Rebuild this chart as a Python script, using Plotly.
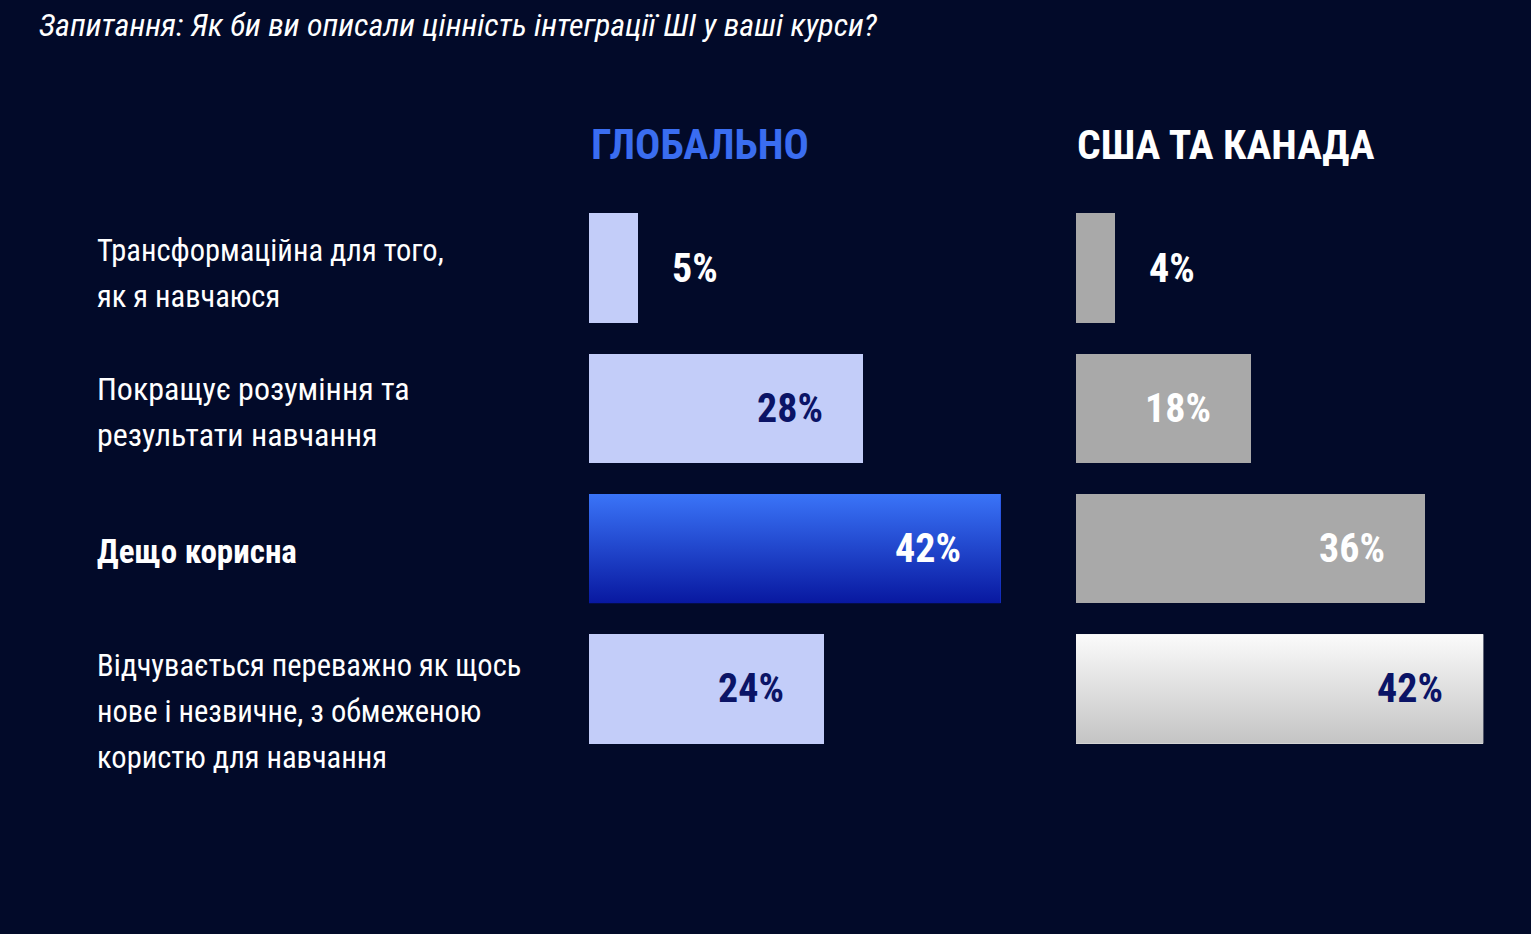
import plotly.graph_objects as go

title_text = "Запитання: Як би ви описали цінність інтеграції ШІ у ваші курси?"
categories = [
    "Трансформаційна для того,<br>як я навчаюся",
    "Покращує розуміння та<br>результати навчання",
    "<b>Дещо корисна</b>",
    "Відчувається переважно як щось<br>нове і незвичне, з обмеженою<br>користю для навчання",
]
global_values = [5, 28, 42, 24]
na_values = [4, 18, 36, 42]
panel_titles = ["ГЛОБАЛЬНО", "США ТА КАНАДА"]

BG = "#020a29"
FONT = "Liberation Sans Narrow, Roboto Condensed, Liberation Sans, Arial, sans-serif"
W = 1531
H = 934

global_colors = ["#c3cdf9", "#c3cdf9", "#1d3fd6", "#c3cdf9"]
na_colors = ["#a9a9a9", "#a9a9a9", "#a9a9a9", "#e4e4e4"]
global_text_colors = ["#ffffff", "#0b1466", "#ffffff", "#0b1466"]
na_text_colors = ["#ffffff", "#ffffff", "#ffffff", "#0b1466"]
highlight = {("x", 2): ["#0818a0", "#3a74f8"], ("x2", 3): ["#c4c4c4", "#fbfbfb"]}

bar_w = 0.78
ypos = list(range(len(categories)))

fig = go.Figure()
fig.add_trace(go.Bar(x=global_values, y=ypos, orientation="h", width=bar_w,
                     marker=dict(color=global_colors, line=dict(width=0)),
                     xaxis="x", yaxis="y", hoverinfo="skip", showlegend=False))
fig.add_trace(go.Bar(x=na_values, y=ypos, orientation="h", width=bar_w,
                     marker=dict(color=na_colors, line=dict(width=0)),
                     xaxis="x2", yaxis="y2", hoverinfo="skip", showlegend=False))

# gradient overlays for highlighted bars
for (xa, idx), (c_bottom, c_top) in highlight.items():
    vals = global_values if xa == "x" else na_values
    v = vals[idx]
    y0, y1 = idx - bar_w / 2, idx + bar_w / 2
    fig.add_trace(go.Scatter(
        x=[0, v, v, 0, 0], y=[y0, y0, y1, y1, y0], mode="lines",
        line=dict(width=0), fill="toself",
        fillgradient=dict(type="vertical", start=y0, stop=y1,
                          colorscale=[[0, c_top], [1, c_bottom]]),
        xaxis=xa, yaxis="y" if xa == "x" else "y2",
        hoverinfo="skip", showlegend=False))

ann = []
ann.append(dict(text="<i>" + title_text + "</i>", x=37 / W, y=1 - 25 / H, xref="paper", yref="paper",
                xanchor="left", yanchor="middle", showarrow=False,
                font=dict(family=FONT, size=32, color="#ffffff")))
ann.append(dict(text="<b>" + panel_titles[0] + "</b>", x=589 / W, y=1 - 144 / H, xref="paper", yref="paper",
                xanchor="left", yanchor="middle", showarrow=False,
                font=dict(family=FONT, size=42, color="#3a6df0")))
ann.append(dict(text="<b>" + panel_titles[1] + "</b>", x=1075 / W, y=1 - 144 / H, xref="paper", yref="paper",
                xanchor="left", yanchor="middle", showarrow=False,
                font=dict(family=FONT, size=41.5, color="#ffffff")))

label_shift = [5, 4, 3, 23]  # px downward of label block centre vs bar centre
label_size = [30.5, 32, 33, 30.5]
line_gap = 46
for i, c in enumerate(categories):
    lines = c.split("<br>")
    n = len(lines)
    for k, ln in enumerate(lines):
        off = (k - (n - 1) / 2) * line_gap + label_shift[i]
        ann.append(dict(text=ln, x=95 / W, y=i, xref="paper", yref="y",
                        xanchor="left", yanchor="middle", align="left", showarrow=False,
                        yshift=-off,
                        font=dict(family=FONT, size=label_size[i], color="#ffffff")))

for vals, tcols, xa, ya in [(global_values, global_text_colors, "x", "y"),
                            (na_values, na_text_colors, "x2", "y2")]:
    for i, v in enumerate(vals):
        outside = v < 10
        ann.append(dict(text="<b>%d%%</b>" % v, x=v, y=i, xref=xa, yref=ya,
                        xanchor="left" if outside else "right", yanchor="middle",
                        xshift=32 if outside else -38, showarrow=False,
                        font=dict(family=FONT, size=40, color=tcols[i])))

axis_common = dict(showgrid=False, zeroline=False, showticklabels=False, showline=False, fixedrange=True)
fig.update_layout(
    width=W, height=H,
    margin=dict(l=0, r=0, t=0, b=0),
    paper_bgcolor=BG, plot_bgcolor=BG,
    xaxis=dict(domain=[589 / W, (589 + 45 * 9.8) / W], range=[0, 45], **axis_common),
    xaxis2=dict(domain=[1076 / W, (1076 + 45 * 9.7) / W], range=[0, 45], **axis_common),
    yaxis=dict(domain=[1 - 759 / H, 1 - 198 / H], range=[3.5, -0.5], anchor="x", **axis_common),
    yaxis2=dict(domain=[1 - 759 / H, 1 - 198 / H], range=[3.5, -0.5], anchor="x2", **axis_common),
    annotations=ann,
    bargap=0,
)
fig.write_html("out.html", config={"displayModeBar": False},
               post_script="document.body.style.margin='0';document.body.style.background='%s';" % BG)
